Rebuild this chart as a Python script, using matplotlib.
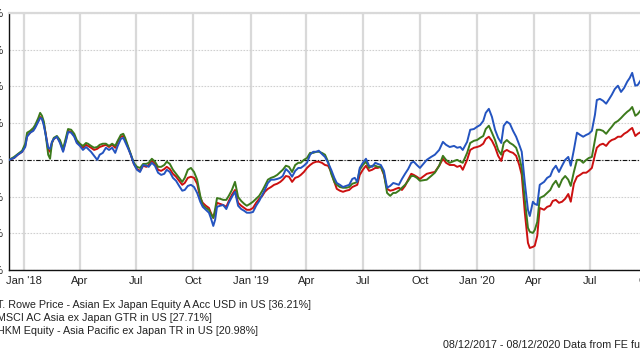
import matplotlib
matplotlib.use('Agg')
import matplotlib.pyplot as plt
import pandas as pd

plt.rcParams['font.family'] = ['Liberation Sans', 'DejaVu Sans']

start_date = '2017-12-08'
end_date = '2020-12-08'

day_offsets = [0, 8, 14, 21, 26, 29, 34, 39, 42, 47, 50, 53, 56, 59, 63, 66, 69, 72, 77, 82,
               87, 92, 95, 100, 105, 109, 114, 119, 124, 127, 132, 137, 142, 146, 151, 156, 161, 166, 171, 175,
               180, 184, 187, 192, 196, 201, 206, 211, 216, 221, 225, 230, 235, 240, 245, 250, 254, 259, 264, 269,
               274, 279, 283, 288, 293, 298, 303, 308, 312, 317, 322, 325, 329, 332, 335, 340, 345, 350, 354, 359,
               364, 369, 374, 379, 383, 388, 393, 398, 403, 408, 412, 417, 422, 427, 432, 437, 441, 446, 451, 456,
               461, 466, 470, 475, 480, 485, 490, 495, 499, 504, 509, 514, 519, 524, 528, 533, 538, 543, 548, 553,
               557, 561, 565, 570, 575, 580, 585, 590, 594, 599, 604, 609, 614, 619, 623, 628, 633, 638, 643, 648,
               652, 657, 662, 673, 680, 686, 693, 699, 704, 710, 717, 722, 727, 731, 738, 743, 749, 754, 759, 764,
               768, 773, 778, 783, 788, 793, 797, 802, 807, 812, 817, 822, 826, 831, 836, 839, 844, 847, 851, 855,
               862, 867, 872, 876, 881, 886, 891, 896, 901, 905, 910, 915, 920, 925, 930, 934, 939, 944, 947, 952,
               957, 962, 967, 971, 976, 981, 986, 991, 996, 1000, 1004, 1009, 1013, 1018, 1025]

trowe = [0, 0.5, 1.4, 2.2, 3.5, 6.3, 7.4, 7.9, 8.7, 10.4, 11.4, 11.2, 9.3, 6.8, 3.3, 3.0, 4.9, 5.7, 6.3, 4.6,
         2.2, 5.4, 7.6, 7.4, 6.3, 4.6, 3.8, 2.7, 3.5, 3.0, 2.2, 1.1, 0.0, 1.4, 1.9, 3.3, 2.7, 3.3, 1.9, 3.8,
         5.7, 6.0, 4.9, 3.0, 1.4, -1.1, -2.7, -3.3, -1.4, -1.6, -1.9, -0.8, -1.6, -3.5, -4.1, -3.8, -2.7, -3.3, -4.9, -5.7,
         -7.1, -8.4, -8.2, -7.1, -6.8, -7.4, -9.0, -11.4, -12.8, -13.6, -14.4, -15.8, -18.0, -16.3, -12.8, -12.5, -12.3, -13.4, -11.7, -10.1,
         -8.7, -12.5, -13.4, -13.9, -14.4, -14.4, -14.2, -12.5, -11.2, -9.5, -8.2, -6.3, -5.4, -5.4, -5.2, -4.9, -4.4, -2.5, -3.3, -4.6,
         -3.0, -2.2, -2.2, -1.6, -0.8, 1.4, 2.2, 2.2, 2.5, 1.6, 0.8, -0.8, -2.7, -4.9, -6.3, -6.8, -7.4, -7.1, -6.8, -5.2,
         -4.9, -6.0, -2.2, -0.8, 0.3, -1.6, -1.9, -0.8, -1.1, -1.4, -3.0, -7.6, -7.1, -6.3, -6.5, -6.8, -5.2, -3.8, -2.5, -0.8,
         -0.5, -1.4, -2.2, 0.0, 0.8, 1.4, 2.7, 4.9, 4.1, 3.5, 3.8, 3.3, 3.5, 2.7, 4.9, 8.2, 8.4, 9.0, 9.5, 10.6,
         12.8, 13.9, 11.7, 8.2, 6.0, 4.6, 9.3, 10.4, 9.8, 7.9, 6.3, 4.1, 2.2, -6.3, -13.6, -15.3, -11.4, -12.0, -12.3, -6.8,
         -6.0, -4.9, -4.4, -2.7, -1.6, -3.3, -1.6, 0.0, 0.8, -1.6, 2.7, 7.4, 6.8, 6.3, 6.8, 7.1, 7.9, 12.3, 16.3, 16.6,
         16.1, 15.3, 16.6, 17.7, 19.3, 20.2, 18.5, 19.6, 21.3, 22.3, 23.7, 20.2, 20.4, 21.8, 22.3]

msci = [0, 0.8, 1.6, 2.5, 4.4, 7.4, 7.9, 8.7, 9.5, 11.4, 12.8, 12.0, 10.4, 6.8, 1.4, 0.3, 4.6, 6.0, 6.5, 5.4,
        3.0, 6.3, 8.4, 8.2, 7.1, 5.4, 4.4, 3.8, 4.6, 4.4, 3.8, 3.3, 3.5, 4.1, 4.4, 4.4, 3.8, 4.4, 3.8, 5.2,
        6.8, 7.1, 6.0, 3.5, 1.6, -0.8, -1.9, -2.2, -1.1, -1.1, -0.8, 0.3, -0.5, -1.9, -1.9, -1.4, -0.5, -1.1, -2.7, -3.8,
        -4.9, -6.0, -4.9, -2.7, -2.2, -3.3, -5.4, -9.8, -12.3, -13.1, -13.6, -14.7, -15.8, -13.4, -10.4, -10.6, -10.9, -10.9, -9.8, -8.2,
        -6.0, -10.1, -11.2, -12.0, -12.5, -12.0, -11.4, -10.6, -9.8, -8.4, -7.1, -5.4, -4.9, -4.6, -4.1, -3.3, -2.7, -1.6, -1.9, -3.3,
        -1.4, -0.8, -0.8, 0.0, 0.5, 1.9, 1.9, 2.2, 2.2, 1.9, 1.4, -0.5, -3.8, -6.0, -6.8, -7.4, -7.6, -7.6, -7.4, -6.5,
        -6.3, -6.0, -2.7, -1.4, -0.5, -2.2, -1.6, -1.6, -1.9, -1.9, -3.8, -9.0, -9.8, -9.0, -9.0, -8.4, -7.6, -6.8, -5.7, -4.4,
        -4.4, -4.9, -5.7, -5.4, -4.4, -3.5, -1.6, 1.1, 0.0, -0.8, -0.3, 0.0, -0.5, -0.8, 1.9, 4.6, 5.2, 5.4, 6.0, 6.5,
        8.4, 9.3, 7.4, 5.4, 2.7, 1.4, 4.6, 5.4, 4.6, 4.1, 3.3, 0.8, -2.2, -10.9, -18.5, -19.6, -19.9, -19.1, -16.9, -10.4,
        -9.8, -9.0, -8.2, -6.8, -5.7, -7.4, -5.4, -4.4, -5.4, -7.1, -3.3, 0.0, 0.0, -0.8, 0.0, 0.5, 0.8, 5.4, 8.2, 8.2,
        7.9, 7.1, 8.2, 9.0, 10.1, 10.6, 11.4, 12.3, 13.1, 13.6, 14.4, 12.0, 12.5, 13.6, 14.2]

hkm = [0, 0.5, 1.4, 2.2, 3.8, 6.5, 7.4, 8.2, 9.0, 10.6, 11.7, 11.2, 9.8, 7.1, 2.7, 2.2, 4.6, 5.7, 6.3, 4.9,
       2.5, 5.7, 7.9, 7.6, 6.5, 4.9, 4.1, 3.3, 4.1, 3.8, 3.3, 2.7, 3.0, 3.5, 3.8, 4.1, 3.5, 4.1, 3.3, 4.9,
       6.3, 6.5, 5.4, 3.3, 1.4, -1.1, -2.5, -3.0, -1.6, -1.9, -1.4, -0.3, -1.1, -2.7, -3.0, -2.5, -1.9, -2.5, -3.8, -4.6,
       -5.7, -6.8, -6.3, -4.9, -4.6, -4.9, -6.5, -10.4, -11.7, -12.5, -13.1, -14.4, -15.8, -14.2, -11.7, -12.0, -12.3, -12.8, -11.2, -9.5,
       -8.2, -11.7, -12.5, -13.1, -13.6, -13.6, -13.1, -11.7, -10.6, -9.8, -8.7, -7.9, -7.4, -6.8, -6.5, -6.0, -5.4, -4.4, -4.6, -6.0,
       -4.9, -4.6, -4.1, -3.3, -2.2, -1.4, -0.8, -0.5, -0.5, -0.8, -1.4, -1.6, -3.3, -6.0, -7.9, -8.4, -8.7, -8.4, -8.2, -7.4,
       -7.1, -6.8, -4.1, -2.7, -1.6, -3.0, -2.7, -2.2, -2.2, -1.9, -4.1, -7.9, -8.4, -8.2, -7.9, -7.6, -8.2, -7.1, -5.4, -3.8,
       -4.1, -4.6, -5.2, -3.8, -3.5, -3.3, -1.6, 0.3, -0.8, -1.4, -1.4, -1.9, -1.6, -2.7, 0.0, 2.7, 3.3, 3.5, 3.8, 4.4,
       5.7, 6.3, 5.2, 3.5, 1.1, -0.3, 2.2, 2.7, 2.2, 1.9, 1.1, -1.4, -4.1, -14.4, -22.6, -24.0, -23.7, -23.4, -20.7, -13.1,
       -13.6, -12.8, -12.5, -11.2, -10.9, -11.7, -11.4, -10.6, -9.3, -11.4, -6.5, -4.6, -4.1, -3.5, -3.5, -3.0, -2.2, 1.4, 3.3, 4.1,
       4.4, 3.8, 4.9, 5.4, 5.7, 6.3, 6.3, 7.1, 7.6, 8.2, 8.7, 6.5, 7.1, 7.6, 8.2]

series_labels = ["T. Rowe Price - Asian Ex Japan Equity A Acc USD in US [36.21%]",
                 "MSCI AC Asia ex Japan GTR in US [27.71%]",
                 "HKM Equity - Asia Pacific ex Japan TR in US [20.98%]"]
series_colors = ['#2454c0', '#3c7a1c', '#cc1010']

tick_dates = ['2018-01-01', '2018-04-01', '2018-07-01', '2018-10-01', '2019-01-01', '2019-04-01',
              '2019-07-01', '2019-10-01', '2020-01-01', '2020-04-01', '2020-07-01', '2020-10-01']
tick_labels = ["Jan '18", "Apr", "Jul", "Oct", "Jan '19", "Apr", "Jul", "Oct", "Jan '20", "Apr", "Jul", "Oct"]
y_ticks = [-30, -20, -10, 0, 10, 20, 30, 40]
footer = "08/12/2017 - 08/12/2020 Data from FE fundinfo2020"

dates = pd.Timestamp(start_date) + pd.to_timedelta(day_offsets, unit='D')

fig = plt.figure(figsize=(6.4, 3.6), dpi=100)
ax = fig.add_axes([9.1 / 640, 90 / 360, 680.2 / 640, 257 / 360])

# draw lowest-ranked first so blue ends on top
for vals, col in zip([hkm, msci, trowe], series_colors[::-1]):
    ax.plot(dates, vals, color=col, lw=1.4, zorder=3, solid_joinstyle='round')

ax.axhline(0, color='#111111', lw=0.8, ls=(0, (4, 1.5, 1, 1.5)), zorder=2)

ax.set_xlim(pd.Timestamp(start_date), pd.Timestamp(end_date))
ax.set_ylim(-30, 40)
ax.set_yticks(y_ticks)
ax.set_yticklabels([f"{v}%" for v in y_ticks])
ax.set_xticks(pd.to_datetime(tick_dates))
ax.set_xticklabels(tick_labels)

ax.grid(axis='x', color='#d9d9d9', lw=1.6, zorder=0)
ax.grid(axis='y', color='#d0d0d0', lw=0.8, ls=(0, (1.5, 1.2)), zorder=0)
ax.set_axisbelow(True)

ax.tick_params(axis='both', length=0, labelsize=8, colors='#222222')
ax.tick_params(axis='y', pad=4)
ax.tick_params(axis='x', pad=4)

for s in ['left', 'bottom']:
    ax.spines[s].set_color('#111111')
    ax.spines[s].set_linewidth(1.0)
ax.spines['top'].set_color('#d9d9d9')
ax.spines['top'].set_linewidth(1.6)
ax.spines['right'].set_visible(False)

for i, lab in enumerate(series_labels):
    fig.text(-3 / 640, 1 - (305 + 13 * i) / 360, lab, fontsize=7.75, color='#222222',
             ha='left', va='center')

fig.text(443 / 640, 1 - 345 / 360, footer, fontsize=7.75, color='#222222', ha='left', va='center')

fig.savefig('out.png', dpi=100)
